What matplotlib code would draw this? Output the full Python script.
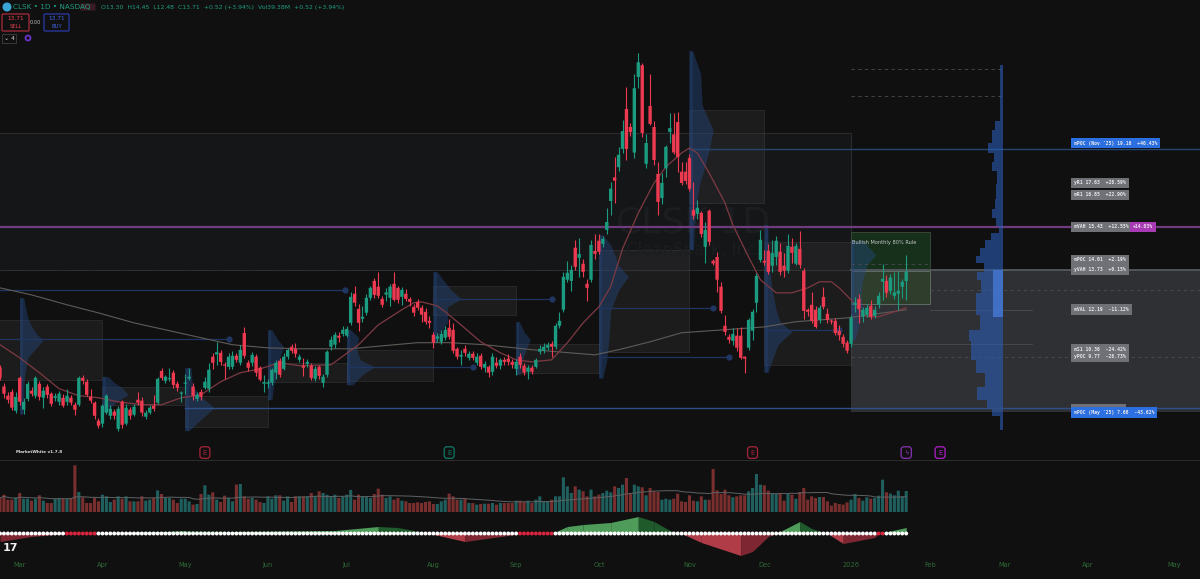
import numpy as np
import pandas as pd
import matplotlib
matplotlib.use("Agg")
import matplotlib.pyplot as plt
from matplotlib.patches import Rectangle, Circle, FancyBboxPatch

# daily candles CLSK
opens = [9.46,8.63,8.22,8.39,7.55,9.01,7.6,8.08,8.44,8.22,
         8.75,8.13,8.62,8.31,8.12,7.95,8.13,7.95,8.13,7.82,
         7.82,9.01,8.84,8.17,7.91,7.11,6.98,7.47,7.33,7.51,
         6.75,7.95,6.98,7.6,7.38,8.04,8.0,7.29,7.47,7.78,
         7.91,9.32,8.88,8.95,9.24,8.75,8.31,8.75,8.98,8.62,
         8.08,8.39,8.57,8.53,9.95,10.05,10.12,9.59,9.5,9.5,
         9.99,9.68,11.0,9.68,9.68,9.95,9.46,8.75,8.75,8.8,
         9.24,9.77,9.41,9.95,10.39,10.3,9.81,9.55,9.63,9.55,
         8.97,9.5,8.79,9.15,10.39,10.48,10.88,10.96,10.88,11.45,
         12.74,12.07,11.63,11.9,12.56,13.31,13.05,12.51,12.7,12.56,
         13.18,13.0,12.6,12.74,12.51,12.16,12.38,12.12,11.94,11.54,
         10.92,10.75,10.61,10.79,11.23,11.14,10.3,9.95,10.3,9.9,
         10.08,9.68,9.99,9.46,9.5,9.28,9.68,9.55,9.81,9.86,
         9.72,9.41,9.95,9.55,9.28,9.46,9.5,10.17,10.21,10.35,
         10.52,10.39,11.32,12.03,13.36,13.31,14.78,14.33,14.07,13.18,
         13.36,14.64,15.09,14.95,15.57,16.85,17.9,18.35,19.16,20.93,
         20.13,19.0,22.35,22.87,18.5,21.06,20.13,18.05,16.98,18.3,
         19.91,19.8,20.35,18.15,18.15,18.76,16.46,16.28,16.32,14.82,
         16.42,14.2,14.37,13.05,11.32,10.83,10.65,10.88,10.88,9.95,
         10.35,11.1,12.34,14.24,14.2,14.64,13.98,14.37,14.6,13.98,
         13.76,14.82,14.07,14.73,13.76,12.03,12.25,12.03,11.58,12.6,
         11.85,11.55,11.54,11.1,10.83,10.57,10.52,12.25,12.51,11.72,
         11.81,12.2,11.76,12.25,13.27,13.31,12.87,12.65,12.74,13.05,
         13.3]
closes = [9.02,8.31,8.04,7.69,8.17,7.95,7.95,8.75,8.31,9.01,
          8.17,8.44,8.26,7.86,8.2,8.31,7.78,8.22,7.91,7.6,
          9.01,8.88,8.26,8.0,7.33,6.89,7.77,8.22,7.64,7.33,
          7.64,6.93,7.69,7.33,7.73,7.91,7.47,7.47,7.69,7.64,
          8.97,9.01,9.06,9.0,8.7,8.57,8.35,8.79,9.06,8.22,
          8.26,8.17,8.84,9.37,9.68,10.15,9.72,9.55,9.95,9.99,
          9.81,10.25,9.99,9.46,10.03,9.24,8.93,8.82,8.82,9.37,
          9.68,9.15,9.95,10.25,10.21,10.08,9.95,9.46,9.72,9.01,
          9.41,9.1,9.06,10.17,10.7,10.92,10.79,11.14,11.18,12.6,
          12.34,11.45,11.72,12.56,13.0,12.69,12.65,12.25,12.8,13.05,
          12.47,12.47,12.91,12.51,12.38,11.9,12.12,11.81,11.5,11.45,
          10.57,10.85,10.96,11.14,10.83,10.21,9.95,10.03,10.12,10.08,
          9.9,9.95,9.5,9.63,9.24,9.95,9.55,9.81,9.72,9.72,
          9.59,9.72,9.59,9.24,9.46,9.28,9.81,10.3,10.39,10.48,
          10.39,11.32,11.54,13.49,13.67,13.8,13.93,14.5,13.71,13.0,
          14.9,14.51,14.6,15.17,15.92,17.4,17.75,18.9,19.95,19.16,
          19.91,21.85,23.0,19.87,19.42,20.27,18.67,16.81,17.65,19.25,
          20.08,19.0,18.8,17.65,17.74,17.39,16.2,16.55,15.39,15.57,
          15.04,14.08,13.36,11.98,11.05,10.7,10.96,10.35,9.9,9.86,
          11.58,11.94,13.53,15.13,14.12,13.71,14.55,15.09,13.71,13.76,
          14.86,14.55,14.86,14.02,11.98,11.94,11.54,11.27,12.12,12.16,
          11.58,11.5,11.0,10.9,10.52,10.21,11.67,12.34,12.07,12.03,
          12.12,11.72,12.03,12.65,13.4,12.78,13.45,12.8,12.87,13.27,
          13.71]
highs = [9.6,8.79,8.4,8.5,8.4,9.1,8.1,8.85,8.6,9.1,
         8.85,8.6,8.75,8.4,8.35,8.45,8.3,8.5,8.25,7.95,
         9.1,9.15,8.95,8.5,8.0,7.25,7.85,8.3,7.8,7.65,
         7.75,8.05,7.85,7.7,7.85,8.4,8.15,7.6,7.8,8.25,
         9.05,9.45,9.15,9.45,9.35,8.85,8.45,9.2,9.45,8.8,
         8.4,8.5,9.05,9.65,10.1,10.6,10.25,9.7,10.1,10.2,
         10.1,10.45,11.25,9.8,10.15,10.05,9.55,9.15,8.95,9.45,
         9.8,9.9,10.1,10.35,10.5,10.55,10.05,9.9,9.85,9.65,
         9.55,9.6,9.2,10.25,10.85,11.05,11.05,11.3,11.3,12.8,
         13.1,12.3,12.2,12.75,13.1,13.45,13.7,12.65,13.0,13.15,
         13.7,13.1,13.05,12.95,12.6,12.3,12.5,12.25,12.1,11.75,
         11.05,11.0,11.15,11.3,11.6,11.45,10.4,10.25,10.45,10.2,
         10.2,10.1,10.1,9.75,9.6,10.1,9.95,9.9,9.95,10.05,
         9.85,9.85,10.1,9.65,9.6,9.6,9.9,10.45,10.55,10.6,
         10.65,11.45,11.95,13.7,14.2,14.0,15.13,15.2,14.3,13.4,
         15.13,15.4,15.4,15.3,16.55,17.7,18.8,19.25,20.45,21.9,
         20.3,22.5,23.4,22.95,19.8,22.5,20.4,18.6,18.1,19.35,
         20.75,20.75,20.8,18.6,18.6,18.95,17.7,16.9,16.4,15.9,
         16.5,14.3,14.6,13.25,11.8,10.95,11.23,11.23,11.27,10.0,
         11.65,12.05,13.65,15.57,14.7,14.95,15.1,15.3,15.0,14.55,
         15.4,15.2,15.0,15.5,13.9,12.1,12.8,12.2,12.25,13.05,
         12.1,11.6,11.65,11.35,10.95,10.7,11.8,12.6,12.75,12.15,
         12.3,12.47,12.2,12.8,14.07,13.58,13.6,13.7,13.76,13.4,
         14.45]
lows = [8.9,8.13,7.9,7.6,7.45,7.8,7.4,8.0,8.2,8.1,
        8.05,7.69,8.1,7.75,8.0,7.8,7.7,7.8,7.8,7.35,
        7.75,8.75,8.2,7.9,7.2,6.8,6.85,7.4,7.2,7.2,
        6.65,6.8,6.9,7.2,7.3,7.8,7.3,7.2,7.4,7.55,
        7.85,8.9,8.8,8.85,8.55,8.45,7.95,8.3,8.9,8.05,
        8.0,8.05,8.5,8.4,9.4,9.6,9.6,8.95,9.4,9.4,
        9.7,9.6,9.9,9.3,9.55,9.1,8.85,8.4,8.55,8.7,
        8.95,9.05,9.35,9.85,10.1,9.95,9.7,9.1,9.5,8.9,
        8.85,8.95,8.6,9.05,10.25,10.35,10.6,10.85,10.8,11.35,
        12.2,11.1,11.5,11.8,12.45,12.55,12.55,12.15,12.4,12.2,
        12.4,12.35,12.25,12.4,12.2,11.75,12.0,11.5,11.4,11.2,
        10.35,10.6,10.5,10.7,10.75,10.1,9.85,9.6,10.0,9.8,
        9.8,9.6,9.4,9.25,9.05,9.15,9.45,9.4,9.6,9.6,
        9.45,9.15,9.45,9.15,8.95,9.2,9.45,10.05,10.1,10.25,
        9.95,10.3,11.2,11.95,13.25,12.85,13.8,13.5,13.5,12.4,
        13.25,14.3,14.5,14.8,15.4,16.25,16.77,18.2,19.0,18.67,
        19.75,18.75,21.85,19.7,18.3,20.2,18.45,16.25,16.7,17.9,
        19.4,18.95,18.15,17.55,17.6,17.3,16.05,16.05,15.25,14.1,
        14.9,14.0,12.8,11.9,10.92,10.55,10.48,10.2,9.85,9.24,
        10.25,10.7,11.94,14.15,14.0,13.6,13.7,14.0,13.55,13.5,
        13.65,14.1,14.0,13.9,11.6,11.75,11.45,11.2,11.45,12.05,
        11.45,11.4,10.9,10.7,10.4,10.12,10.4,11.94,11.45,11.5,
        11.7,11.6,11.65,12.1,12.45,12.6,12.75,12.5,12.03,12.55,
        12.48]
# volume, millions
volumes = [26.3,32.5,23.1,23.1,26.3,35.6,25,25,21.3,25,
           31.3,21.3,16.9,16.9,24.4,26.3,24.4,24.4,26.3,87.5,
           37.5,27.5,16.9,16.9,26.3,20,32.5,29.4,18.8,23.1,
           29.4,25,29.4,20,20,20,29.4,21.3,23.1,26.3,
           40.6,33.8,26.3,26.3,23.1,16.9,25,25,20,13.8,
           15,33.8,50,32.5,36.9,23.1,18.8,30.6,26.3,20,
           51.3,52.5,29.4,25,26.3,23.1,18.8,16.9,29.4,25,
           31.3,31.3,21.3,29.4,18.8,29.4,29.4,29.4,29.4,35.6,
           29.4,38.8,35.6,32.5,29.4,32.5,26.3,29.4,32.5,41.3,
           23.1,32.5,29.4,29.4,26.3,33.8,43.8,32.5,26.3,29.4,
           23.1,26.3,21.3,20,16.9,16.9,18.1,16.9,18.8,20,
           15,15,20,23.1,34.4,29.4,23.1,23.1,25,16.9,
           16.9,13.8,15,15.6,15.6,16.9,13.8,16.9,16.9,16.9,
           16.9,21.3,21.3,18.8,21.3,16.9,23.1,29.4,18.8,18.8,
           23.1,29.4,29.4,65,48.1,35.6,48.1,41.9,38.8,29.4,
           41.9,29.4,32.5,35.6,40,36.9,48.1,45,51.3,63.8,
           35.6,51.3,48.1,46.3,31.3,45,38.8,37.5,23.1,25,
           23.1,25,34.4,20,18.8,31.3,21.3,20,29.4,23.1,
           23.1,80.6,40.6,33.8,41.9,31.3,27.5,29.4,31.3,31.3,
           38.8,45,71.3,51.3,50,40,33.8,33.8,33.8,21.3,
           33.8,32.5,25,37.5,45,23.1,29.4,26.3,28.1,28.1,
           20,11.9,16.9,15,13.8,18.1,23.1,33.8,26.3,21.3,
           27.5,25,26.3,30.6,60.6,36.9,34.4,31.3,40,29.4,
           39.38]
assert len(opens) == len(closes) == len(highs) == len(lows) == len(volumes) == 231

# moving averages, read at a few bars
ma_fast_bars = [0,5,10,15,20,25,30,36,41,46,51,56,61,66,71,76,84,91,96,102,105,107,111,113,117,122,127,131,135,140,144,148,152,155,158,162,166,169,173,175,177,180,184,186,190,193,197,201,205,208,211,213,216,218,220,223,227,230]
ma_fast = [10.48,9.9,9.24,8.53,8.22,8.13,7.95,7.82,7.82,8.13,8.26,8.84,9.24,9.41,9.68,9.55,9.59,10.48,11.36,12.03,12.34,12.38,12.2,11.94,11.36,10.61,10.12,9.81,9.72,9.81,10.57,11.45,12.16,13.05,14.73,16.32,17.65,18.36,18.98,19.2,18.98,18.09,16.77,15.79,14.37,13.36,12.78,12.78,13.0,13.27,13.27,13.0,12.47,12.03,11.72,11.72,11.94,12.12]
ma_slow_bars = [0,8,17,25,34,42,51,59,68,76,89,97,106,114,123,135,151,157,165,173,194,202,215,230]
ma_slow = [13.0,12.69,12.25,11.89,11.45,11.14,10.79,10.48,10.34,10.3,10.3,10.43,10.57,10.57,10.48,10.26,10.03,10.26,10.61,11.01,11.27,11.5,11.67,12.03]

# squeeze momentum
mom_bars = [0,8,17,42,47,59,85,96,101,105,109,118,129,132,140,144,148,155,162,166,170,173,178,188,191,195,197,203,206,210,214,222,223,230]
mom_vals = [-8,-3,0,2,3,2,3,7,6,3,0,-8,-2,0,0,7,9,11,17,12,3,0,-9,-22,-18,-3,0,12,5,0,-10,-4,0,6]
squeeze_bars = [17,18,19,20,21,22,23,24,132,133,134,135,136,137,138,139,140,223,224]

# monthly value areas: start bar, end bar, high, low
va_start = [-1,26,47,68,88,110,131,152,175,194]
va_end = [26,47,68,88,110,131,152,175,194,216]
va_high = [11.58,8.62,8.22,9.68,10.26,13.09,10.52,14.69,20.89,15.04]
va_low = [8.93,7.82,6.84,8.84,8.88,11.81,9.24,10.17,16.77,9.59]

# monthly volume profiles, width in bars
prof_anchor = [5,26,47,68,88,110,131,152,175,194,216]
prof_prices = [[12.56,11.7,11.3,10.9,10.7,10.3,9.9,9.0,7.8,7.4],
               [9.06,8.8,8.57,8.26,7.95,7.51],
               [9.46,8.7,8.26,7.69,7.24,6.84,6.67],
               [11.14,10.7,10.39,9.9,9.24,8.7,8.04],
               [11.14,10.8,10.26,9.8,9.5,9.15,8.7],
               [13.71,13.36,12.91,12.51,12.16,11.45,10.92,10.57],
               [11.5,11.05,10.7,10.26,9.72,9.15],
               [15.35,14.9,14.45,14.0,13.5,12.9,12.0,10.7,9.8,9.0],
               [23.5,22.5,21.1,20.0,19.1,18.45,17.55,16.4,14.7],
               [15.8,14.25,12.9,12.0,11.5,11.05,10.5,9.8,9.25],
               [15.1,14.46,14.0,13.36,12.7,12.0,11.36,10.7]]
prof_widths = [[1,2,3,4.5,6,4,2,1.2,1,0.8],
               [1.5,3,5,6.5,3.5,1],
               [1.5,1.8,3.5,7.3,4.5,2,1],
               [1,2.5,4,3,2.3,1.5,1],
               [1,3,2.5,3.5,7,4,1.5],
               [1,2.4,4.5,7,3.6,3.6,1.2,1],
               [0.8,2,3.6,2.5,1.5,1],
               [1,3,4,5,7.5,5,3,2.5,2,1],
               [0.8,2.8,3.2,6,5,4,2.5,1.5,1],
               [0.9,1,2,3,4,7,3.5,2,0.9],
               [3,6.3,4,3,2.5,3,2,1]]

# yearly profile, grows to the left of its anchor
year_anchor = 254.6
year_prices = [22.88,20.44,20.31,19.69,19.12,18.8,18.36,18.0,17.21,16.68,16.32,15.88,15.57,15.26,14.99,14.55,14.24,13.93,13.49,13.22,12.34,11.27,11.0,10.26,9.37,9.06,8.17,7.91,7.46,7.15,6.71]
year_widths = [0.85,0.85,1.95,2.8,3.9,2.4,2.8,1.5,1.7,2,2.8,1.7,1.1,3.2,4.5,5.8,6.8,4.9,6.6,5.6,6.8,5.8,8.7,8.1,7,4.5,6.6,4.1,2.8,0.85,0.85]

# POC rays: start, end, price
poc_start = [-1,-1,88,110,152,152,194]
poc_end = [58,87.5,120,140,181,185,213]
poc_price = [10.72,12.9,9.5,12.5,12.1,9.95,11.15]

# right side labels
label_text = ["mPOC (Nov '25) 19.16  +40.43%","yR1 17.63  +28.59%","mR1 16.85  +22.90%","mVAH 15.43  +12.55%","mPOC 14.01  +2.19%",
              "yVAH 13.73  +0.15%","mVAL 12.19  -11.12%","mS1 10.36  -24.42%","yPOC 9.77  -28.73%","yS1 7.70  -43.80%","mPOC (May '25) 7.68  -43.62%"]
label_price = [19.42,17.65,17.12,15.7,14.24,13.8,12.03,10.26,9.95,7.6,7.47]
label_color = ['#2b6fe0','#6f7176','#6f7176','#6f7176','#6f7176','#6f7176','#6f7176','#6f7176','#6f7176','#6f7176','#2b6fe0']

month_names = ['Mar','Apr','May','Jun','Jul','Aug','Sep','Oct','Nov','Dec','2026','Feb','Mar','Apr','May']
month_bars = [5,26,47,68,88,110,131,152,175,194,216,236,255,276,298]

event_bars = [52,114,191,230,238.6]
event_text = ['E','E','E','\u03df','E']
event_color = ['#a8243a','#0f7a66','#a8243a','#8a32b8','#b01fc9']

BG = '#101011'
W, H = 1200, 579
SPACE = 3.94


def pane(top, bottom):
    a = fig.add_axes([0, 1 - bottom / H, 1, (bottom - top) / H])
    a.set_facecolor('none')
    a.set_xlim(0, W / SPACE)
    a.axis('off')
    return a


fig = plt.figure(figsize=(12, 5.79), dpi=100, facecolor=BG)
ax = pane(0, 460)
ax.set_ylim(5.37, 25.76)
vax = pane(460, 512)
vax.set_ylim(0, 97.5)
sax = pane(512, 572)
sax.set_ylim(-38.5, 21.5)
top = fig.add_axes([0, 0, 1, 1])
top.set_facecolor('none')
top.set_xlim(0, W)
top.set_ylim(H, 0)
top.axis('off')

bars = np.arange(len(opens))
o, h, l, c = map(np.array, (opens, highs, lows, closes))
up = c >= o

# big yearly zones
ax.add_patch(Rectangle((-1, 13.8), 217, 6.07, fc='#151617', ec='#2b2c2e', lw=0.7, zorder=1))
ax.add_patch(Rectangle((216, 7.51), 90, 6.29, fc='#2f3033', ec='none', zorder=1))
ax.plot([216, 306], [13.8, 13.8], color='#55585c', lw=1.3, zorder=3)
ax.plot([-1, 216], [13.8, 13.8], color='#2f3f38', lw=0.7, ls=(0, (1, 2)), zorder=3)
ax.add_patch(Rectangle((216, 13.75), 20, 1.73, fc='#17301b', ec='#3c4c3c', lw=0.6, zorder=2))
ax.add_patch(Rectangle((216, 12.29), 20, 1.46, fc='#2e3d2c', ec='#64746a', lw=0.6, zorder=2))

# monthly value areas and profiles
for s, e, hi, lo in zip(va_start, va_end, va_high, va_low):
    ax.add_patch(Rectangle((s, lo), e - s, hi - lo, fc='#3a3a3c', alpha=0.3, ec='#5c5c5e', lw=0.6, zorder=2))
for a, pr, wd in zip(prof_anchor, prof_prices, prof_widths):
    ax.fill_betweenx(pr, a, a + np.array(wd), color='#264a85', alpha=0.42, lw=0, zorder=3)
    ax.fill_betweenx([pr[0], pr[-1]], a, a + 0.85, color='#264a85', alpha=0.3, lw=0, zorder=3)

# dashed and plain levels on the right
for price, x0, x1 in [(22.7, 216, 254), (21.5, 216, 254), (14.07, 216, 236), (12.91, 236, 306), (9.95, 216, 306)]:
    ax.plot([x0, x1], [price, price], color='#4a4c50', lw=0.6, ls=(0, (4, 4)), zorder=3)
ax.plot([216, 262], [10.5, 10.5], color='#505256', lw=0.5, zorder=3)
ax.plot([236, 262], [12.03, 12.03], color='#505256', lw=0.5, zorder=3)

for s, e, price in zip(poc_start, poc_end, poc_price):
    ax.plot([s, e], [price, price], color='#1f3660', lw=0.9, zorder=3)
    ax.plot([e], [price], 'o', color='#1f3660', ms=4.5, mew=0, zorder=3)
ax.plot([175, 306], [19.16, 19.16], color='#24466f', lw=1.0, zorder=3)
ax.plot([47, 306], [7.68, 7.68], color='#2f4f88', lw=1.0, zorder=6)
ax.axhline(15.7, color='#6f3c80', lw=1.6, zorder=3)

# yearly profile
yw = np.array(year_widths)
ax.fill_betweenx(year_prices, year_anchor - yw, year_anchor, step='mid', color='#2a5cb4', alpha=0.6, lw=0, zorder=4)
ax.fill_betweenx([13.8, 11.7], year_anchor - 2.5, year_anchor, color='#4a80e0', alpha=0.7, lw=0, zorder=4)

# watermark
ax.text(176, 15.9, 'CLSK 1D', color='#1c1d20', fontsize=26, ha='center', va='center', zorder=2)
ax.text(176, 14.69, 'CleanSpark, Inc.', color='#1c1d20', fontsize=12, ha='center', va='center', zorder=2)

# moving averages
ax.plot(ma_slow_bars, ma_slow, color='#5f5c58', lw=0.8, zorder=5)
ax.plot(ma_fast_bars, ma_fast, color='#7d3a42', lw=0.9, zorder=5)

# candles
col = np.where(up, '#1b9c80', '#ee3a50')
ax.vlines(bars, l, h, colors=col, lw=0.8, zorder=7)
ax.bar(bars, np.maximum(np.abs(c - o), 0.05), bottom=np.minimum(o, c), width=0.85, color=col, lw=0, zorder=8, snap=False)

# labels
for t, price, lc in zip(label_text, label_price, label_color):
    ax.text(272.6, price, t, fontsize=3.4, family='DejaVu Sans Mono', fontweight='bold', color='#e8e8ea', va='center', ha='left',
            bbox=dict(boxstyle='square,pad=0.6', fc=lc, ec='none'), zorder=9)
ax.text(287.5, 15.7, '+14.03%', fontsize=3.4, family='DejaVu Sans Mono', fontweight='bold', color='#f0e0f0', va='center',
        bbox=dict(boxstyle='square,pad=0.6', fc='#a83ab4', ec='none'), zorder=10)
ax.text(216.3, 15.0, 'Bullish Monthly 80% Rule', fontsize=3.6, color='#c8c8c8', va='center', zorder=9)

# volume
vcol = np.where(up, '#1f5f5e', '#7a2f2f')
vax.bar(bars, volumes, width=0.78, color=vcol, lw=0, snap=False)
vma = pd.Series(volumes).rolling(30, min_periods=1).mean()
vax.plot(bars, vma, color='#5f6264', lw=0.7)
vax.axhline(97.3, color='#2b2b2d', lw=0.8)
vax.axhline(0, xmin=906 / W, color='#2b2b2d', lw=0.8)

# squeeze momentum
for i in range(len(mom_bars) - 1):
    x2 = mom_bars[i:i + 2]
    y2 = mom_vals[i:i + 2]
    pos = max(y2) > 0
    rising = abs(y2[1]) >= abs(y2[0])
    if pos:
        fc = '#4f9b5a' if rising else '#1f5a2b'
    else:
        fc = '#b03c48' if rising else '#7e2733'
    sax.fill_between(x2, 0, y2, color=fc, lw=0)
dot_col = ['#d8243c' if b in squeeze_bars else 'white' for b in bars]
sax.scatter(bars, np.zeros(len(bars)), s=8, c=dot_col, lw=0, zorder=4)
sax.axhline(-38.3, color='#222224', lw=0.9)
for b, name in zip(month_bars, month_names):
    sax.text(b, -31.5, name, color='#2f6a35', fontsize=4.8, ha='center', va='center')

# events row
for b, t, ec in zip(event_bars, event_text, event_color):
    ax.text(b, 5.7, t, fontsize=5, color=ec, ha='center', va='center',
            bbox=dict(boxstyle='round,pad=0.4', fc='none', ec=ec, lw=0.9), zorder=9)

# header
top.add_patch(Circle((7, 7), 4.5, fc='#3aa6d8', ec='none'))
top.text(13, 7, 'CLSK \u2022 1D \u2022 NASDAQ', color='#1f9d7e', fontsize=5.2, va='center')
top.add_patch(FancyBboxPatch((81, 4), 14, 6, boxstyle='round,pad=0.5', fc='#3a1c24', ec='none'))
top.text(101, 7, 'O13.30  H14.45  L12.48  C13.71  +0.52 (+3.94%)  Vol39.38M  +0.52 (+3.94%)', color='#1f9d7e', fontsize=4.4, va='center')
top.add_patch(FancyBboxPatch((3, 15), 25, 15, boxstyle='round,pad=1', fc='none', ec='#a82a3c', lw=0.9))
top.text(15.5, 19, '13.71', color='#e8404f', fontsize=4.2, ha='center', va='center')
top.text(15.5, 26, 'SELL', color='#e8404f', fontsize=3.8, ha='center', va='center')
top.text(35, 22, '0.00', color='#c0c0c0', fontsize=3.6, ha='center', va='center')
top.add_patch(FancyBboxPatch((45, 15), 23, 15, boxstyle='round,pad=1', fc='none', ec='#2a3aa8', lw=0.9))
top.text(56.5, 19, '13.71', color='#3f64e8', fontsize=4.2, ha='center', va='center')
top.text(56.5, 26, 'BUY', color='#3f64e8', fontsize=3.8, ha='center', va='center')
top.add_patch(Rectangle((2, 34), 14, 9, fc='none', ec='#3a3a3c', lw=0.7))
top.text(9, 38.5, '\u2304 4', color='#d0d0d0', fontsize=4.4, ha='center', va='center')
top.add_patch(Circle((28, 38), 2.5, fc='none', ec='#6a32c8', lw=1.3))
top.text(16, 452, 'MarketWhite v1.7.8', color='#e0e0e0', fontsize=3, fontweight='bold', va='center')
top.text(10, 548, '17', color='#f0f0f0', fontsize=8, fontweight='bold', ha='center', va='center')

fig.savefig('out.png', dpi=100, facecolor=BG)
